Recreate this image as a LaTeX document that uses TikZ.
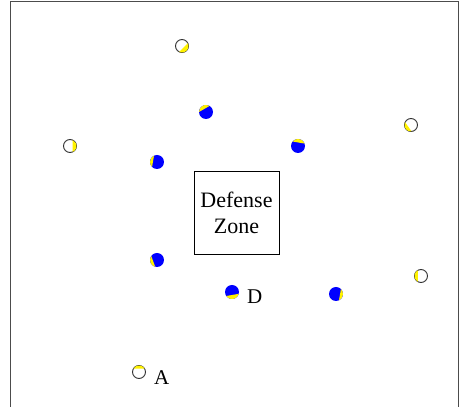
\documentclass[tikz,border=0pt]{standalone}
\usepackage{fontspec}
\setmainfont{Liberation Serif}
\begin{document}
\begin{tikzpicture}[x=1pt,y=1pt,
  whiteplayer/.style={circle,draw=black!80,line width=0.9pt,fill=white,minimum size=13pt,inner sep=0pt,outer sep=0pt},
  blueplayer/.style={circle,fill=blue,minimum size=14pt,inner sep=0pt,outer sep=0pt},
  zone/.style={draw,line width=0.6pt,minimum width=85pt,minimum height=83pt,align=center,font=\fontsize{22}{26}\selectfont},
  lbl/.style={font=\fontsize{21}{24}\selectfont,inner sep=0pt,anchor=west}]
\useasboundingbox (0,0) rectangle (459,407);
\draw[black!70,line width=0.8pt] (10,-1) -- (10,406) -- (458.5,406) -- (458.5,-1);
\newcommand\seg[4]{\fill[yellow] (#1.center) ++({#2-#3}:#4) arc[start angle={#2-#3}, end angle={#2+#3}, radius=#4] -- cycle;}
% white players
\node[whiteplayer] (w1) at (182,361) {};
\node[whiteplayer] (w2) at (70,261) {};
\node[whiteplayer] (w3) at (411,282) {};
\node[whiteplayer] (w4) at (421,131) {};
\node[whiteplayer] (w5) at (139,35) {};
% blue players
\node[blueplayer] (b1) at (206,295) {};
\node[blueplayer] (b2) at (157,245) {};
\node[blueplayer] (b3) at (298,261) {};
\node[blueplayer] (b4) at (157,147) {};
\node[blueplayer] (b5) at (232,115) {};
\node[blueplayer] (b6) at (336,113) {};
% yellow segments
\seg{w1}{-45}{70}{6.5pt}
\seg{w2}{0}{65}{6.5pt}
\seg{w3}{215}{60}{6.5pt}
\seg{w4}{180}{60}{6.5pt}
\seg{w5}{90}{60}{6.5pt}
\seg{b1}{120}{60}{7pt}
\seg{b2}{170}{55}{7pt}
\seg{b3}{80}{60}{7pt}
\seg{b4}{200}{55}{7pt}
\seg{b5}{-80}{65}{7pt}
\seg{b6}{-10}{55}{7pt}
% zone
\node[zone] (zone) at (236.5,194.5) {Defense\\Zone};
\node[lbl] (D) at (247,110) {D};
\node[lbl] (A) at (154,29) {A};
\end{tikzpicture}
\end{document}
